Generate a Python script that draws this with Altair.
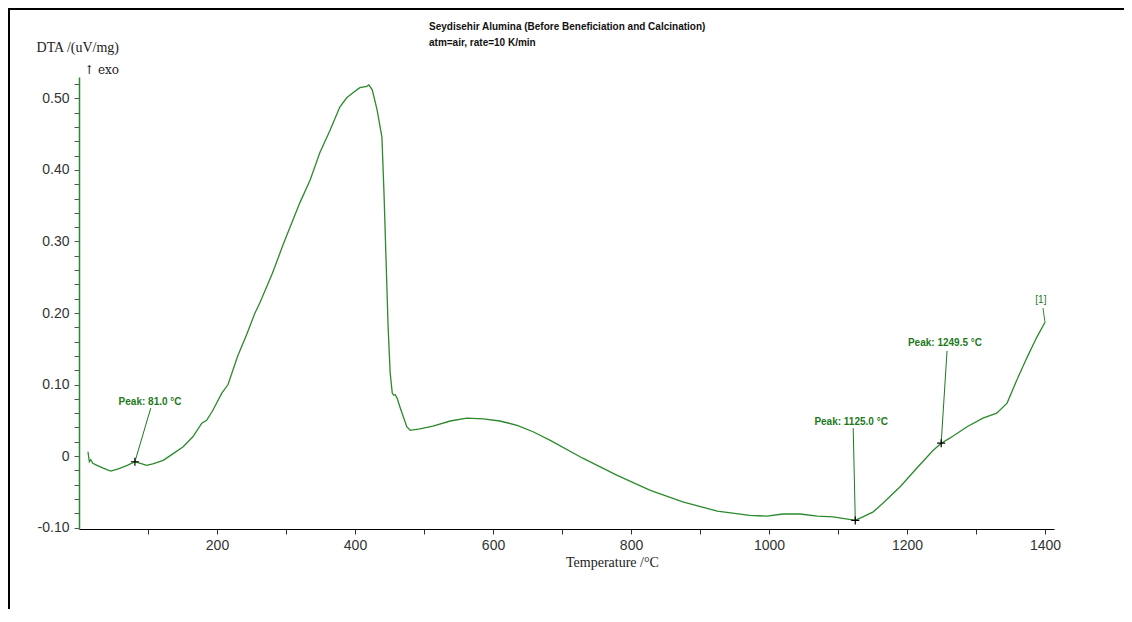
import altair as alt
import pandas as pd

# ---- data ----
temps = [13, 15, 17, 20, 26, 35, 46, 57, 70, 81, 88, 98, 107, 122, 136, 151, 165, 178, 185, 194,
         207, 216, 230, 243, 255, 262, 280, 296, 320, 335, 349, 364, 378, 388, 397, 407, 417, 420,
         425, 432, 439, 442, 445, 448, 451, 454, 456, 458, 461, 465, 470, 475, 480, 494, 513, 538,
         562, 586, 610, 635, 658, 683, 730, 780, 828, 875, 925, 972, 997, 1020, 1045, 1070, 1093,
         1107, 1125, 1136, 1151, 1165, 1190, 1214, 1238, 1249.5, 1262, 1287, 1310, 1330, 1345,
         1359, 1374, 1388, 1400]
dta = [0.006, -0.008, -0.005, -0.010, -0.013, -0.017, -0.021, -0.018, -0.013, -0.008, -0.010,
       -0.013, -0.011, -0.006, 0.003, 0.013, 0.027, 0.046, 0.050, 0.064, 0.088, 0.100, 0.140,
       0.170, 0.200, 0.214, 0.255, 0.296, 0.354, 0.386, 0.424, 0.456, 0.488, 0.501, 0.508, 0.515,
       0.517, 0.519, 0.512, 0.484, 0.446, 0.368, 0.274, 0.180, 0.116, 0.088, 0.085, 0.086, 0.081,
       0.069, 0.055, 0.041, 0.036, 0.038, 0.042, 0.049, 0.053, 0.052, 0.049, 0.043, 0.034, 0.022,
       -0.003, -0.027, -0.048, -0.064, -0.077, -0.083, -0.084, -0.081, -0.081, -0.084, -0.085,
       -0.087, -0.090, -0.085, -0.078, -0.066, -0.043, -0.017, 0.008, 0.018, 0.025, 0.041, 0.053,
       0.060, 0.074, 0.106, 0.138, 0.166, 0.187]

peak_t = [81.0, 1125.0, 1249.5]
peak_v = [-0.008, -0.090, 0.018]
peak_labels = ["Peak: 81.0 °C", "Peak: 1125.0 °C", "Peak: 1249.5 °C"]
lead_t2 = [104, 1122, 1258]
lead_v2 = [0.067, 0.039, 0.147]
label_t = [103, 1119, 1255]
label_v = [0.0755, 0.0476, 0.158]

end_t = [1400]
end_v = [0.187]
end_t2 = [1397]
end_v2 = [0.207]
end_label_t = [1394]
end_label_v = [0.218]
end_label = ["[1]"]

x_ticks = [100, 200, 300, 400, 500, 600, 700, 800, 900, 1000, 1100, 1200, 1300, 1400]
y_ticks = [-0.10, -0.08, -0.06, -0.04, -0.02, 0.0, 0.02, 0.04, 0.06, 0.08, 0.10, 0.12, 0.14,
           0.16, 0.18, 0.20, 0.22, 0.24, 0.26, 0.28, 0.30, 0.32, 0.34, 0.36, 0.38, 0.40, 0.42,
           0.44, 0.46, 0.48, 0.50, 0.52]

title1 = "Seydisehir Alumina (Before Beneficiation and Calcination)"
title2 = "atm=air, rate=10 K/min"
y_title1 = "DTA /(uV/mg)"
y_title2 = "↑ exo"
x_title = "Temperature /°C"

GREEN = "#2b8a2b"
DGREEN = "#1c7a1c"
W, H = 975, 452

df = pd.DataFrame({"T": temps, "v": dta})
peaks = pd.DataFrame({"T": peak_t, "v": peak_v, "T2": lead_t2, "v2": lead_v2,
                      "lt": label_t, "lv": label_v, "label": peak_labels})
ends = pd.DataFrame({"T": end_t, "v": end_v, "T2": end_t2, "v2": end_v2,
                     "lt": end_label_t, "lv": end_label_v, "label": end_label})

xscale = alt.Scale(domain=[0, 1413], nice=False, zero=False)
yscale = alt.Scale(domain=[-0.102, 0.530], nice=False, zero=False)

xaxis = alt.Axis(values=x_ticks, tickCount=60,
                 labelExpr="datum.value % 200 == 0 ? format(datum.value, 'd') : ''",
                 labelOverlap=False,
                 grid=False, domainColor="black", tickColor="#333", tickSize=5,
                 labelFont="Liberation Sans", labelFontSize=14, labelColor="#333",
                 labelPadding=4, title=None)
yaxis = alt.Axis(values=y_ticks, tickCount=60,
                 labelExpr="round(datum.value*100) % 10 == 0 ? (round(datum.value*100) == 0 ? '0' : ((datum.value < 0 ? '-' : '') + format(abs(datum.value), '.2f'))) : ''",
                 labelOverlap=False,
                 grid=False, domainColor=GREEN, domainWidth=1.5, tickColor="#555", tickSize=5,
                 labelFont="Liberation Sans", labelFontSize=14, labelColor="#333",
                 labelPadding=5, title=None)

line = alt.Chart(df).mark_line(color=GREEN, strokeWidth=1.3).encode(
    x=alt.X("T:Q", scale=xscale, axis=xaxis),
    y=alt.Y("v:Q", scale=yscale, axis=yaxis),
)

leaders = alt.Chart(peaks).mark_rule(color=DGREEN, strokeWidth=1).encode(
    x=alt.X("T:Q", scale=xscale), y=alt.Y("v:Q", scale=yscale), x2="T2:Q", y2="v2:Q")
marks = alt.Chart(peaks).mark_point(shape="M-1,0L1,0M0,-1L0,1", size=64, color="black",
                                    strokeWidth=1.2, filled=False, opacity=1).encode(
    x=alt.X("T:Q", scale=xscale), y=alt.Y("v:Q", scale=yscale))
labels = alt.Chart(peaks).mark_text(font="Liberation Sans", fontSize=10, fontWeight="bold",
                                    color=DGREEN, baseline="middle", align="center").encode(
    x=alt.X("lt:Q", scale=xscale), y=alt.Y("lv:Q", scale=yscale), text="label:N")

end_rule = alt.Chart(ends).mark_rule(color=GREEN, strokeWidth=1).encode(
    x=alt.X("T:Q", scale=xscale), y=alt.Y("v:Q", scale=yscale), x2="T2:Q", y2="v2:Q")
end_text = alt.Chart(ends).mark_text(font="Liberation Sans", fontSize=10, color=DGREEN,
                                     baseline="middle", align="center").encode(
    x=alt.X("lt:Q", scale=xscale), y=alt.Y("lv:Q", scale=yscale), text="label:N")

one = pd.DataFrame({"a": [0]})
frame_left = alt.Chart(one).mark_rule(color="black", strokeWidth=2).encode(
    x=alt.value(-70), y=alt.value(-69), y2=alt.value(H + 80))
frame_top = alt.Chart(one).mark_rule(color="black", strokeWidth=2).encode(
    y=alt.value(-68), x=alt.value(-71), x2=alt.value(W + 70))

t1 = alt.Chart(one).mark_text(text=title1, font="Liberation Sans", fontSize=10, fontWeight="bold",
                              color="#111", align="left", baseline="middle").encode(
    x=alt.value(350), y=alt.value(-50))
t2 = alt.Chart(one).mark_text(text=title2, font="Liberation Sans", fontSize=10, fontWeight="bold",
                              color="#111", align="left", baseline="middle").encode(
    x=alt.value(350), y=alt.value(-34))
yt1 = alt.Chart(one).mark_text(text=y_title1, font="Liberation Serif", fontSize=14,
                               color="#222", align="right", baseline="middle").encode(
    x=alt.value(40), y=alt.value(-29))
yt2 = alt.Chart(one).mark_text(text=y_title2, font="DejaVu Serif", fontSize=12,
                               color="#222", align="right", baseline="middle").encode(
    x=alt.value(40), y=alt.value(-7))
xt = alt.Chart(one).mark_text(text=x_title, font="Liberation Serif", fontSize=14,
                              color="#222", align="left", baseline="middle").encode(
    x=alt.value(487), y=alt.value(486))

chart = alt.layer(line, leaders, marks, labels, end_rule, end_text,
                  frame_left, frame_top, t1, t2, yt1, yt2, xt).properties(
    width=W, height=H,
    padding={"left": 71, "top": 69, "right": 70, "bottom": 80},
    autosize=alt.AutoSizeParams(type="none"),
    background="white",
).configure_view(stroke=None)

chart.save("out.html", embed_options={"renderer": "svg", "actions": False})
